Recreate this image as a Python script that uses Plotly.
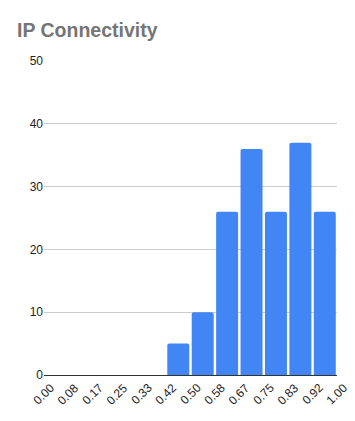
import plotly.graph_objects as go

bin_edges = [i / 12 for i in range(13)]
tick_labels = ["0.00", "0.08", "0.17", "0.25", "0.33", "0.42", "0.50",
               "0.58", "0.67", "0.75", "0.83", "0.92", "1.00"]
counts = [0, 0, 0, 0, 0, 5, 10, 26, 36, 26, 37, 26]

centers = [(bin_edges[i] + bin_edges[i + 1]) / 2 for i in range(12)]
bin_w = 1 / 12

fig = go.Figure(go.Bar(
    x=centers, y=counts, width=[bin_w * 0.9] * 12,
    marker=dict(color="#4285f4", cornerradius=2, line=dict(width=0)),
))
# page body has an 8px margin; compensate so the plot lands where the reference has it
fig.update_layout(
    width=347, height=413,
    margin=dict(l=36, r=18, t=53, b=46),
    paper_bgcolor="white", plot_bgcolor="white",
    title=dict(text="<b>IP Connectivity</b>", x=9 / 347, xanchor="left",
               y=1 - 22 / 413, yanchor="middle",
               font=dict(family="Liberation Sans, Arial", size=19.5, color="#757575")),
    font=dict(family="Liberation Sans, Arial", size=11, color="#222222"),
    showlegend=False,
)
for v, t in zip(bin_edges, tick_labels):
    fig.add_annotation(x=v, y=0, xref="x", yref="paper", text=t,
                       showarrow=False, textangle=-45, xanchor="center",
                       yanchor="middle", yshift=-19,
                       font=dict(size=12, color="#222222"))
fig.update_xaxes(range=[0, 1], tickvals=bin_edges, showticklabels=False,
                 showgrid=False, zeroline=False,
                 showline=True, linecolor="#333333", linewidth=1, ticks="")
fig.update_yaxes(range=[0, 50], tickvals=[0, 10, 20, 30, 40, 50],
                 showgrid=True, gridcolor="#cccccc", gridwidth=1,
                 zeroline=False, showline=False, ticks="",
                 tickfont=dict(size=12, color="#222222"))
fig.write_html("out.html")
